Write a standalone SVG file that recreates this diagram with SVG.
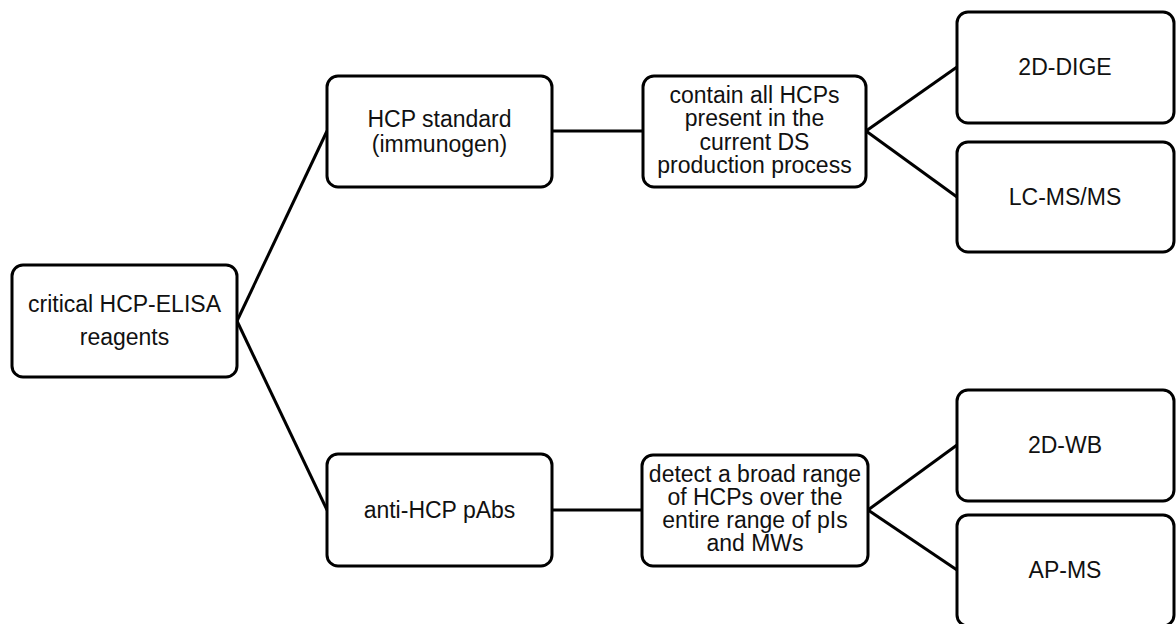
<svg xmlns="http://www.w3.org/2000/svg" width="1176" height="624" viewBox="0 0 1176 624">
<style>
.box{fill:#fff;stroke:#000;stroke-width:3}
.t{font-family:"Liberation Sans",Arial,sans-serif;font-size:23px;fill:#111;text-anchor:middle}
.c{stroke:#000;stroke-width:3;fill:none}
</style>
<rect width="1176" height="624" fill="#fff"/>
<g id="connectors">
<line class="c" x1="237" y1="321" x2="327" y2="131"/>
<line class="c" x1="237" y1="321" x2="327" y2="510"/>
<line class="c" x1="552" y1="131" x2="643" y2="131"/>
<line class="c" x1="866" y1="131" x2="957" y2="67"/>
<line class="c" x1="866" y1="131" x2="957" y2="197"/>
<line class="c" x1="552" y1="510" x2="642" y2="510"/>
<line class="c" x1="868" y1="510" x2="957" y2="445"/>
<line class="c" x1="868" y1="510" x2="957" y2="570"/>
</g>
<g id="root">
<rect class="box" x="12" y="265" width="225" height="112" rx="11"/>
<text class="t" x="124.5" y="312">critical HCP-ELISA</text>
<text class="t" x="124.5" y="345">reagents</text>
</g>
<g id="hcp-standard">
<rect class="box" x="327" y="76" width="225" height="111" rx="11"/>
<text class="t" x="439.5" y="127">HCP standard</text>
<text class="t" x="439.5" y="152">(immunogen)</text>
</g>
<g id="contain">
<rect class="box" x="643" y="76" width="223" height="111" rx="11"/>
<text class="t" x="754.5" y="103">contain all HCPs</text>
<text class="t" x="754.5" y="126">present in the</text>
<text class="t" x="754.5" y="150">current DS</text>
<text class="t" x="754.5" y="173">production process</text>
</g>
<g id="dige">
<rect class="box" x="957" y="12" width="217" height="111" rx="11"/>
<text class="t" x="1065" y="75">2D-DIGE</text>
</g>
<g id="lcms">
<rect class="box" x="957" y="142" width="217" height="110" rx="11"/>
<text class="t" x="1065" y="205">LC-MS/MS</text>
</g>
<g id="anti-hcp">
<rect class="box" x="327" y="454" width="225" height="112" rx="11"/>
<text class="t" x="439.5" y="518">anti-HCP pAbs</text>
</g>
<g id="detect">
<rect class="box" x="642" y="455" width="226" height="111" rx="11"/>
<text class="t" x="755" y="482">detect a broad range</text>
<text class="t" x="755" y="505">of HCPs over the</text>
<text class="t" x="755" y="528">entire range of pIs</text>
<text class="t" x="755" y="551">and MWs</text>
</g>
<g id="wb">
<rect class="box" x="957" y="390" width="217" height="111" rx="11"/>
<text class="t" x="1065" y="453">2D-WB</text>
</g>
<g id="apms">
<rect class="box" x="957" y="515" width="217" height="111" rx="11"/>
<text class="t" x="1065" y="578">AP-MS</text>
</g>
</svg>
